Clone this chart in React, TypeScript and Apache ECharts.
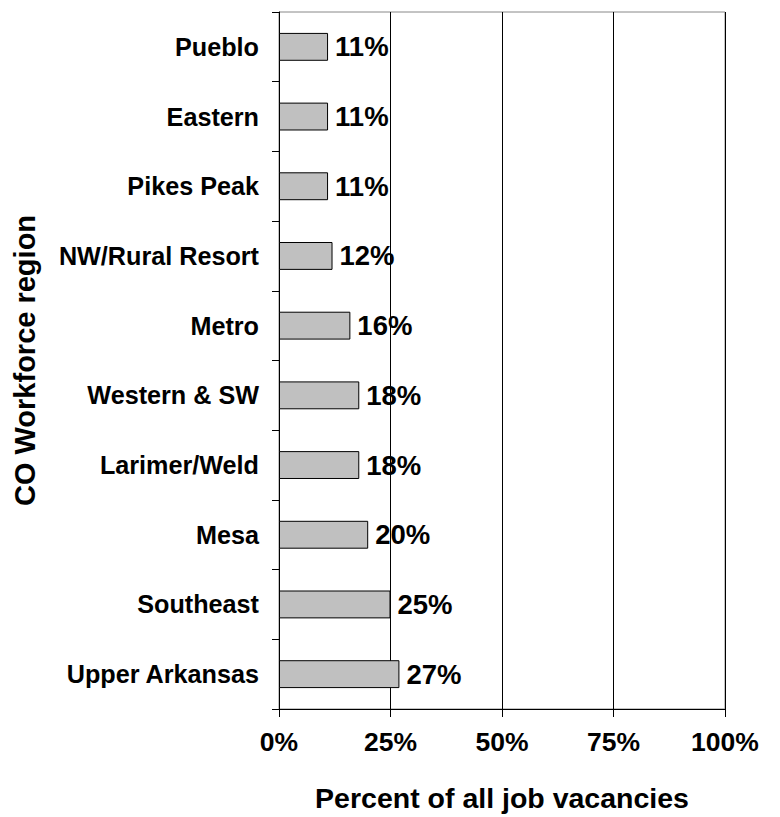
import React, { useEffect, useRef } from "react";
import * as echarts from "echarts";

const categories = [
  "Pueblo",
  "Eastern",
  "Pikes Peak",
  "NW/Rural Resort",
  "Metro",
  "Western & SW",
  "Larimer/Weld",
  "Mesa",
  "Southeast",
  "Upper Arkansas",
];
const values = [11, 11, 11, 12, 16, 18, 18, 20, 25, 27];
const xTicks = [0, 25, 50, 75, 100];
const xTitle = "Percent of all job vacancies";
const yTitle = "CO Workforce region";

const FONT = "'Liberation Sans', Arial, sans-serif";

export default function App() {
  const ref = useRef<HTMLDivElement>(null);
  useEffect(() => {
    document.body.style.margin = "0";
    const chart = echarts.init(ref.current!, null, { renderer: "svg" });
    chart.setOption({
      animation: false,
      backgroundColor: "#ffffff",
      textStyle: { fontFamily: FONT },
      grid: {
        left: 279,
        right: 55,
        top: 12,
        bottom: 84,
        show: true,
        borderColor: "#888888",
        borderWidth: 1,
        containLabel: false,
      },
      xAxis: {
        type: "value",
        min: xTicks[0],
        max: xTicks[xTicks.length - 1],
        interval: 25,
        name: xTitle,
        nameLocation: "middle",
        nameGap: 74,
        nameTextStyle: { fontSize: 28.5, fontWeight: "bold", color: "#000", fontFamily: FONT },
        axisLine: { show: true, lineStyle: { color: "#000", width: 1 } },
        axisTick: { show: true, length: 8, lineStyle: { color: "#000" } },
        axisLabel: {
          formatter: "{value}%",
          fontSize: 26.5,
          fontWeight: "bold",
          color: "#000",
          margin: 19,
          fontFamily: FONT,
        },
        splitLine: { show: true, lineStyle: { color: "#000", width: 1 } },
      },
      yAxis: {
        type: "category",
        data: categories,
        inverse: true,
        name: yTitle,
        nameLocation: "middle",
        nameGap: 240,
        nameRotate: 90,
        nameTextStyle: { fontSize: 29, fontWeight: "bold", color: "#000", fontFamily: FONT },
        axisLine: { show: true, lineStyle: { color: "#000", width: 1 } },
        axisTick: { show: true, length: 7, lineStyle: { color: "#000" } },
        axisLabel: {
          fontSize: 25.2,
          fontWeight: "bold",
          color: "#000",
          margin: 20,
          fontFamily: FONT,
        },
        splitLine: { show: false },
      },
      series: [
        {
          type: "bar",
          data: values,
          barCategoryGap: "60%",
          itemStyle: { color: "#c0c0c0", borderColor: "#000", borderWidth: 1 },
          label: {
            show: true,
            position: "right",
            distance: 7,
            formatter: "{c}%",
            fontSize: 27.5,
            fontWeight: "bold",
            color: "#000",
            fontFamily: FONT,
          },
        },
      ],
    });
    return () => chart.dispose();
  }, []);
  return <div ref={ref} style={{ width: 780, height: 817 }} />;
}
